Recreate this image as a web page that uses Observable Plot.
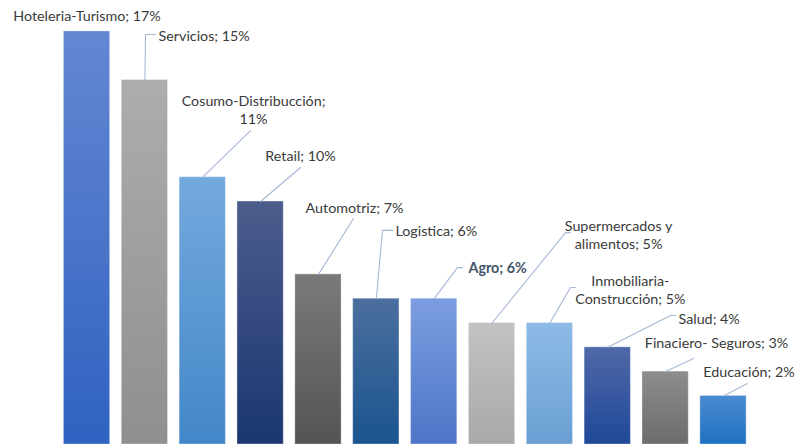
<!DOCTYPE html>
<html>
<head>
<meta charset="utf-8">
<script src="https://cdn.jsdelivr.net/npm/d3@7"></script>
<script src="https://cdn.jsdelivr.net/npm/@observablehq/plot@0.6"></script>
<style>
  html, body { margin: 0; padding: 0; background: #ffffff; }
  #chart { width: 796px; height: 444px; overflow: hidden; }
</style>
</head>
<body>
<div id="chart"></div>
<script>
// ---- data ----
const categories = [
  "Hoteleria-Turismo", "Servicios", "Cosumo-Distribucción", "Retail",
  "Automotriz", "Logistica", "Agro", "Supermercados y alimentos",
  "Inmobiliaria-Construcción", "Salud", "Finaciero- Seguros", "Educación"
];
const values = [17, 15, 11, 10, 7, 6, 6, 5, 5, 4, 3, 2];
const labelTexts = [
  "Hoteleria-Turismo; 17%", "Servicios; 15%", "Cosumo-Distribucción;\n11%", "Retail; 10%",
  "Automotriz; 7%", "Logistica; 6%", "Agro; 6%", "Supermercados y\nalimentos; 5%",
  "Inmobiliaria-\nConstrucción; 5%", "Salud; 4%", "Finaciero- Seguros; 3%", "Educación; 2%"
];

// ---- styling ----
const topColors = ["#6487d2", "#adadad", "#74a9de", "#4c5d8c", "#7a7a7a", "#4b6f9e",
                   "#7c9ee0", "#c2c2c2", "#8dbbe6", "#5069a8", "#8d8d8d", "#4a8ad0"];
const bottomColors = ["#2f62c1", "#8f8f8f", "#4287c8", "#1b3671", "#545454", "#1a548f",
                      "#4d74c6", "#a9a9a9", "#6a9fd3", "#1f4898", "#6c6c6c", "#1f72c2"];

// ---- annotation layout (data units: x = bar index, y = percent) ----
const labelX = [0, 1.236, 2.878, 3.69, 4.623, 5.33, 6.593, 9.186, 9.39, 10.223, 10.88, 12.23];
const labelY = [17.65, 16.83, 13.79, 11.89, 9.75, 8.81, 7.28, 8.66, 6.38, 5.185, 4.2, 3.0];
const labelAnchor = ["middle", "start", "middle", "middle", "middle", "start", "start",
                     "middle", "middle", "start", "middle", "end"];
const leaderBends = [
  [],
  [[1.011, 16.87], [1.184, 16.87]],
  [[2.826, 12.92]],
  [[3.69, 11.40]],
  [[4.606, 9.30]],
  [[5.107, 8.81], [5.28, 8.81]],
  [[6.403, 7.28], [6.49, 7.28]],
  [[8.27, 8.72], [8.356, 8.72]],
  [[8.356, 6.46], [8.443, 6.46]],
  [[10.085, 5.31], [10.171, 5.31]],
  [[10.483, 3.54]],
  [[11.415, 2.51]]
];

const bars = categories.map((c, i) => ({category: c, index: i, value: values[i]}));
const labels = labelTexts.map((t, i) => ({text: t, x: labelX[i], y: labelY[i], anchor: labelAnchor[i], index: i}));
const leaderPts = [];
leaderBends.forEach((pts, i) => {
  if (!pts.length) return;
  leaderPts.push({id: i, x: i, y: values[i]});
  pts.forEach(p => leaderPts.push({id: i, x: p[0], y: p[1]}));
});

const font = "Lato, 'Noto Sans', sans-serif";
const textMarks = labels.map(l => Plot.text([l], {
  x: "x", y: "y", text: "text",
  textAnchor: l.anchor,
  lineAnchor: "middle",
  lineHeight: 1.25,
  fontSize: 14.3,
  fontWeight: l.index === 6 ? "bold" : "normal",
  fill: l.index === 6 ? "#44546a" : "#3a3a3a"
}));

const plot = Plot.plot({
  width: 796,
  height: 444,
  marginLeft: 57.6,
  marginRight: 44.1,
  marginTop: 0,
  marginBottom: 0,
  style: {fontFamily: font, background: "#ffffff", overflow: "visible"},
  x: {type: "linear", domain: [-0.5, 11.5], axis: null},
  y: {domain: [0, 444 / 24.3], axis: null},
  color: {type: "identity"},
  marks: [
    Plot.rectY(bars, {
      x1: d => d.index - 0.4,
      x2: d => d.index + 0.4,
      y1: 0,
      y2: "value",
      fill: d => `url(#barGrad${d.index})`,
      stroke: "#ffffff",
      strokeOpacity: 0.35,
      strokeWidth: 1
    }),
    Plot.line(leaderPts, {x: "x", y: "y", z: "id", stroke: "#a6b8d6", strokeWidth: 1.1, curve: "linear"}),
    ...textMarks
  ]
});

// gradient definitions referenced by the bars
const ns = "http://www.w3.org/2000/svg";
const defs = document.createElementNS(ns, "defs");
topColors.forEach((c, i) => {
  const g = document.createElementNS(ns, "linearGradient");
  g.setAttribute("id", `barGrad${i}`);
  g.setAttribute("x1", "0"); g.setAttribute("y1", "0");
  g.setAttribute("x2", "0"); g.setAttribute("y2", "1");
  const s1 = document.createElementNS(ns, "stop");
  s1.setAttribute("offset", "0"); s1.setAttribute("stop-color", c);
  const s2 = document.createElementNS(ns, "stop");
  s2.setAttribute("offset", "1"); s2.setAttribute("stop-color", bottomColors[i]);
  g.appendChild(s1); g.appendChild(s2);
  defs.appendChild(g);
});
plot.insertBefore(defs, plot.firstChild);

document.getElementById("chart").appendChild(plot);
</script>
</body>
</html>
